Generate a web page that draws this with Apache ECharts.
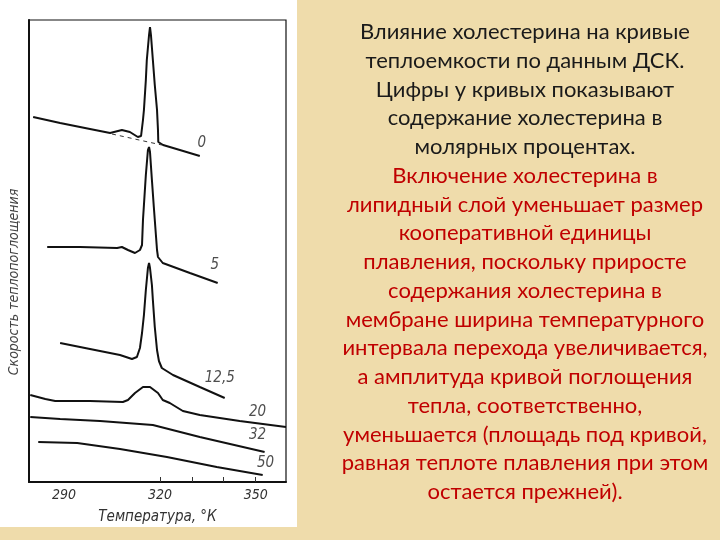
<!DOCTYPE html>
<html><head><meta charset="utf-8">
<script src="https://cdn.jsdelivr.net/npm/echarts@6/dist/echarts.min.js"></script>
<style>html,body{margin:0;padding:0;background:#EFDCAB;}#c{width:720px;height:540px;}</style>
</head><body><div id="c"></div>
<script>
// Tick labels / ticks (K)
const xTickLabels = [290, 320, 350];
const xTicks = [320, 330, 340, 350];

// Curve 0 mol%
const T0 = [280.3, 288.75, 298.1, 304.4, 308.1, 310.6, 313.1, 314.1, 314.7, 315.0, 315.6, 315.9, 316.6, 316.9, 317.2, 317.8, 318.4, 319.1, 319.4, 319.5, 321.0, 326.25, 332.5];
const V0 = [365, 359, 353, 349, 352, 350, 345, 346, 362, 372, 402, 422, 447, 455, 447, 422, 397, 372, 352, 340, 337, 332, 326];
// Dashed baseline under peak of curve 0
const TB0 = [305.0, 320.6];
const VB0 = [348, 337];
// Curve 5 mol%
const T5 = [284.7, 295.0, 306.6, 308.1, 310.0, 312.2, 313.75, 314.4, 314.7, 315.0, 315.6, 316.25, 316.6, 316.9, 317.5, 318.1, 318.75, 319.1, 319.4, 320.9, 329.4, 338.1];
const V5 = [235, 235, 234, 235, 232, 229, 232, 237, 262, 277, 307, 332, 335, 330, 302, 275, 247, 232, 225, 219, 209, 199];
// Curve 12,5 mol%
const T12 = [288.75, 298.1, 307.5, 311.25, 312.8, 313.75, 314.4, 315.0, 315.6, 316.25, 316.6, 316.9, 317.5, 317.8, 318.4, 319.1, 319.7, 320.6, 324.1, 332.5, 340.3];
const V12 = [139, 133, 127, 123, 125, 134, 149, 167, 192, 214, 219, 214, 197, 182, 155, 132, 121, 114, 107, 95, 84];
// Curve 20 mol%
const T20 = [279.4, 284.1, 287.2, 298.1, 308.4, 310.0, 312.2, 314.7, 316.9, 319.4, 320.9, 323.1, 327.2, 332.5, 345.0, 359.5];
const V20 = [87, 83, 81, 81, 80, 82, 89, 95, 95, 89, 82, 79, 71, 67, 61, 55];
// Curve 32 mol%
const T32 = [279.4, 288.75, 301.25, 317.8, 332.5, 352.8];
const V32 = [65, 63, 61, 57, 45, 30];
// Curve 50 mol%
const T50 = [281.9, 294.1, 307.5, 322.2, 337.8, 352.2];
const V50 = [40, 39, 33, 25, 15, 7];

// Curve labels (cholesterol mol %)
const labelNames = ['0', '5', '12,5', '20', '32', '50'];
const labelT = [333.1, 337.2, 338.75, 350.6, 350.6, 353.1];
const labelV = [339, 217, 104, 70, 47, 19];

// Texts
const xName = 'Температура, °К';
const yName = 'Скорость теплопоглощения';
const blackLines = [
  'Влияние холестерина на кривые',
  'теплоемкости по данным ДСК.',
  'Цифры у кривых показывают',
  'содержание холестерина в',
  'молярных процентах.'
];
const redLines = [
  'Включение холестерина в',
  'липидный слой уменьшает размер',
  'кооперативной единицы',
  'плавления, поскольку приросте',
  'содержания холестерина в',
  'мембране ширина температурного',
  'интервала перехода увеличивается,',
  'а амплитуда кривой поглощения',
  'тепла, соответственно,',
  'уменьшается (площадь под кривой,',
  'равная теплоте плавления при этом',
  'остается прежней).'
];

const pair = (T, V) => T.map((t, i) => [t, V[i]]);
const curves = [[T0, V0], [T5, V5], [T12, V12], [T20, V20], [T32, V32], [T50, V50]];
const scanFont = "'DejaVu Sans Condensed', 'DejaVu Sans', sans-serif";

const series = curves.map(([T, V], i) => ({
  type: 'line',
  name: 'c' + labelNames[i],
  data: pair(T, V),
  showSymbol: false,
  symbol: 'none',
  smooth: false,
  lineStyle: { color: '#111', width: 2 },
  silent: true,
  z: 3
}));
series.push({
  type: 'line',
  data: pair(TB0, VB0),
  symbol: 'none',
  lineStyle: { color: '#333', width: 1, type: [4, 4] },
  silent: true
});
series.push({
  type: 'scatter',
  data: labelT.map((t, i) => ({ value: [t, labelV[i]], name: labelNames[i] })),
  symbolSize: 0,
  silent: true,
  label: {
    show: true,
    position: 'inside',
    formatter: p => p.name,
    fontStyle: 'italic',
    fontFamily: scanFont,
    fontSize: 15,
    color: '#222'
  }
});

const lineH = 28.75;
const allLines = blackLines.map(t => [t, '#1a1a1a']).concat(redLines.map(t => [t, '#C00000']));
const graphics = [
  { type: 'rect', left: 0, top: 0, shape: { width: 297, height: 527 }, style: { fill: '#ffffff' }, z: -10, silent: true }
].concat(allLines.map(([t, col], i) => ({
  type: 'text',
  x: 525,
  y: 32 + i * lineH,
  style: {
    text: t,
    fill: col,
    font: "22px Lato, 'Open Sans', sans-serif",
    textAlign: 'center',
    textVerticalAlign: 'middle'
  },
  silent: true
})));

const chart = echarts.init(document.getElementById('c'), null, { renderer: 'canvas' });
chart.setOption({
  animation: false,
  backgroundColor: '#EFDCAB',
  graphic: graphics,
  grid: { left: 29, right: 434, top: 20, bottom: 58, show: true, borderColor: '#111', borderWidth: 1.2, backgroundColor: 'transparent' },
  xAxis: {
    type: 'value',
    min: 279,
    max: 359.5,
    name: xName,
    nameLocation: 'middle',
    nameGap: 28,
    nameTextStyle: { fontStyle: 'italic', fontFamily: scanFont, fontSize: 15, color: '#333' },
    axisLine: { show: true, onZero: false, lineStyle: { color: '#111', width: 2 } },
    axisTick: { show: true, inside: true, length: 5, customValues: xTicks, lineStyle: { color: '#333' } },
    axisLabel: { show: true, customValues: xTickLabels, margin: 6, fontStyle: 'italic', fontFamily: scanFont, fontSize: 14, color: '#333' },
    splitLine: { show: false }
  },
  yAxis: {
    type: 'value',
    min: 0,
    max: 462,
    name: yName,
    nameLocation: 'middle',
    nameGap: 8,
    nameTextStyle: { fontStyle: 'italic', fontFamily: scanFont, fontSize: 14, color: '#444', padding: [0, 62, 0, 0] },
    axisLine: { show: true, lineStyle: { color: '#111', width: 2 } },
    axisTick: { show: false },
    axisLabel: { show: false },
    splitLine: { show: false }
  },
  series: series
});
</script>
</body></html>
